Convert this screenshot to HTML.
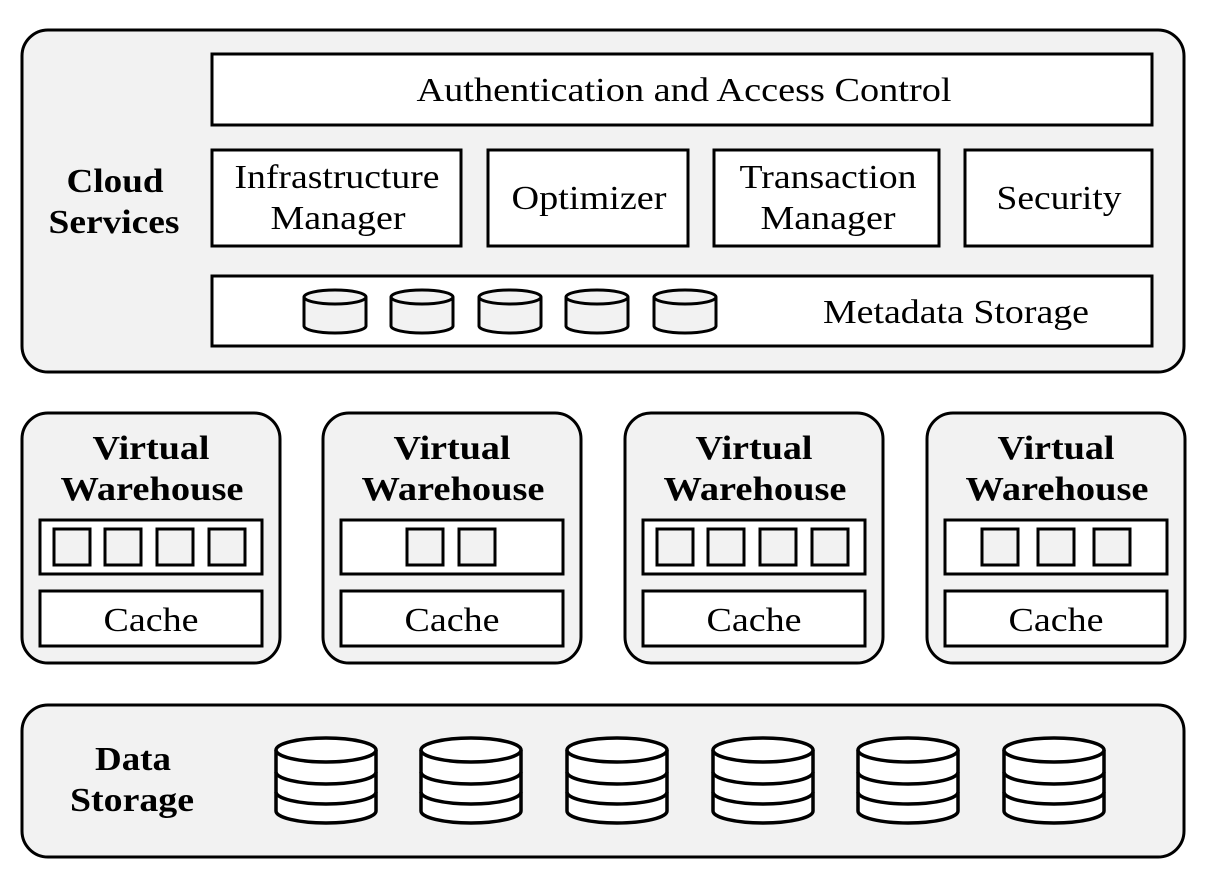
<!DOCTYPE html>
<html><head><meta charset="utf-8"><style>
html,body{margin:0;padding:0;background:#fff}
svg{display:block}
text{font-family:"Liberation Serif",serif;font-size:34px;fill:#000;text-anchor:middle}
.b{font-weight:bold}
</style></head><body>
<svg width="1214" height="894" viewBox="0 0 1214 894" xmlns="http://www.w3.org/2000/svg">
<defs>
<g id="sc">
<path d="M0,7 L0,36 A31,7 0 0 0 62,36 L62,7" fill="#f2f2f2" stroke="#000" stroke-width="3"/>
<ellipse cx="31" cy="7" rx="31" ry="7" fill="#f2f2f2" stroke="#000" stroke-width="3"/>
</g>
<g id="bc" fill="#fff" stroke="#000" stroke-width="3.5">
<path d="M0,12 L0,73 A50,12 0 0 0 100,73 L100,12"/>
<path d="M0,34 A50,12 0 0 0 100,34" fill="none"/>
<path d="M0,54 A50,12 0 0 0 100,54" fill="none"/>
<ellipse cx="50" cy="12" rx="50" ry="12"/>
</g>
<g id="sq"><rect width="36" height="36" fill="#f2f2f2" stroke="#000" stroke-width="3"/></g>
</defs>
<g stroke="#000" stroke-width="3">
<rect x="22" y="30" width="1162" height="342" rx="26" fill="#f2f2f2"/>
<rect x="212" y="54" width="940" height="71" fill="#fff"/>
<rect x="212" y="150" width="249" height="96" fill="#fff"/>
<rect x="488" y="150" width="200" height="96" fill="#fff"/>
<rect x="714" y="150" width="225" height="96" fill="#fff"/>
<rect x="965" y="150" width="187" height="96" fill="#fff"/>
<rect x="212" y="276" width="940" height="70" fill="#fff"/>
<rect x="22" y="705" width="1162" height="152" rx="26" fill="#f2f2f2"/>
</g>
<text x="684" y="101" textLength="535" lengthAdjust="spacingAndGlyphs">Authentication and Access Control</text>
<text x="337" y="188" textLength="205" lengthAdjust="spacingAndGlyphs">Infrastructure</text><text x="338" y="229" textLength="135" lengthAdjust="spacingAndGlyphs">Manager</text>
<text x="589" y="209" textLength="155" lengthAdjust="spacingAndGlyphs">Optimizer</text>
<text x="828" y="188" textLength="177" lengthAdjust="spacingAndGlyphs">Transaction</text><text x="828" y="229" textLength="135" lengthAdjust="spacingAndGlyphs">Manager</text>
<text x="1059" y="209" textLength="125" lengthAdjust="spacingAndGlyphs">Security</text>
<text x="956" y="323" textLength="266" lengthAdjust="spacingAndGlyphs">Metadata Storage</text>
<text class="b" x="115" y="192" textLength="97" lengthAdjust="spacingAndGlyphs">Cloud</text><text class="b" x="114" y="233" textLength="131" lengthAdjust="spacingAndGlyphs">Services</text>
<g id="vw">
<rect x="22" y="413" width="258" height="250" rx="26" fill="#f2f2f2" stroke="#000" stroke-width="3"/>
<rect x="40" y="520" width="222" height="54" fill="#fff" stroke="#000" stroke-width="3"/>
<rect x="40" y="591" width="222" height="55" fill="#fff" stroke="#000" stroke-width="3"/>
<text class="b" x="151" y="459" textLength="117" lengthAdjust="spacingAndGlyphs">Virtual</text><text class="b" x="152" y="500" textLength="183" lengthAdjust="spacingAndGlyphs">Warehouse</text>
<text x="151" y="631" textLength="95" lengthAdjust="spacingAndGlyphs">Cache</text>
</g>
<use href="#vw" x="301"/><use href="#vw" x="603"/><use href="#vw" x="905"/>
<use href="#sc" x="304" y="290"/><use href="#sc" x="391" y="290"/><use href="#sc" x="479" y="290"/><use href="#sc" x="566" y="290"/><use href="#sc" x="654" y="290"/>
<use href="#sq" x="54" y="529"/><use href="#sq" x="105" y="529"/><use href="#sq" x="157" y="529"/><use href="#sq" x="209" y="529"/>
<use href="#sq" x="407" y="529"/><use href="#sq" x="459" y="529"/>
<use href="#sq" x="657" y="529"/><use href="#sq" x="708" y="529"/><use href="#sq" x="760" y="529"/><use href="#sq" x="812" y="529"/>
<use href="#sq" x="982" y="529"/><use href="#sq" x="1038" y="529"/><use href="#sq" x="1094" y="529"/>
<text class="b" x="133" y="770" textLength="76" lengthAdjust="spacingAndGlyphs">Data</text><text class="b" x="132" y="811" textLength="124" lengthAdjust="spacingAndGlyphs">Storage</text>
<use href="#bc" x="276" y="738"/><use href="#bc" x="421" y="738"/><use href="#bc" x="567" y="738"/><use href="#bc" x="713" y="738"/><use href="#bc" x="858" y="738"/><use href="#bc" x="1004" y="738"/>
</svg>
</body></html>
